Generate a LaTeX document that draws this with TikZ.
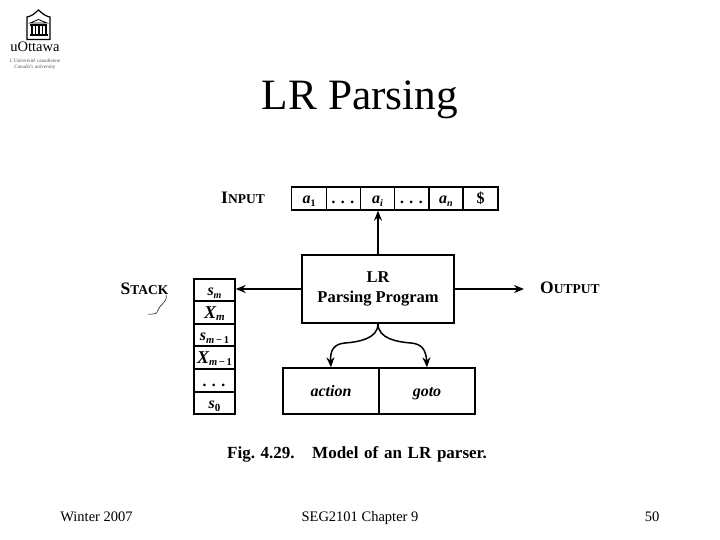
\documentclass[tikz,border=0pt]{standalone}
\usepackage{fontspec}
\setmainfont{Liberation Serif}
\usetikzlibrary{arrows.meta}
\newcommand{\sctext}[2]{{\fontsize{17.5}{18}\selectfont\bfseries #1}{\fontsize{13.5}{14}\selectfont\bfseries #2}}
\newcommand{\subsc}[2]{\raisebox{-2.5pt}{\fontsize{#1}{#1}\selectfont #2}}
\tikzset{
  x=1pt,y=-1pt,
  cell/.style={draw=black,line width=1.4pt,inner sep=0pt,anchor=center,text=black,text height=12pt,text depth=1pt,font=\fontsize{16}{16}\selectfont\bfseries\itshape},
  bigbox/.style={cell,line width=1.5pt},
  conn/.style={draw=black,line width=1.5pt,-{Stealth[length=10pt,width=8pt]}},
  lbl/.style={inner sep=0pt,anchor=base,text=black},
  slide/.style={inner sep=0pt,anchor=base,text=black,font=\fontsize{14.5}{15}\selectfont},
  bigx/.style={font=\fontsize{18}{18}\selectfont\bfseries\itshape},
  logoline/.style={draw=black,line width=1pt}
}
\begin{document}
\begin{tikzpicture}
\useasboundingbox (0,0) rectangle (720,540);
\fill[white] (0,0) rectangle (720,540);
% title and footer
\node[lbl,font=\fontsize{43.3}{46}\selectfont] (title) at (360,110) {LR Parsing};
\node[slide] (fl) at (96.5,521) {Winter 2007};
\node[slide] (fc) at (360,521) {SEG2101 Chapter 9};
\node[slide] (fr) at (652,521) {50};
% logo
\draw[logoline,line width=1.2pt,fill=white] (27,39.5) -- (27,17) .. controls (32,16) and (34,14) .. (38.5,10) .. controls (43,14) and (45,16) .. (50,17) -- (50,39.5) -- cycle;
\draw[logoline,line width=.8pt] (30,23) -- (38.5,19.5) -- (47,23) -- cycle;
\fill[black] (30,24) rectangle (47,26);
\foreach \cx in {32,35.5,39,42.5,46}{\fill[black] (\cx-.8,26) rectangle (\cx+.8,34);}
\fill[black] (29.5,34) rectangle (47.5,36.5);
\node[lbl,font=\fontsize{14.5}{15}\selectfont] (uo) at (35,52) {uOttawa};
\node[lbl,text=black!65,font=\fontsize{5.2}{6}\selectfont] (l1) at (35,63) {L'Université canadienne};
\node[lbl,text=black!65,font=\fontsize{5.2}{6}\selectfont] (l2) at (35,69) {Canada's university};
% input tape
\node[lbl] (input) at (243,204) {\sctext{I}{NPUT}};
\node[cell,minimum width=35pt,minimum height=23pt] (a1) at (309,198.5) {a\subsc{10}{\upshape 1}};
\node[cell,minimum width=34.5pt,minimum height=23pt] (d1) at (343.5,198.5) {.\,\,.\,\,.};
\node[cell,minimum width=33.5pt,minimum height=23pt] (ai) at (377.5,198.5) {a\subsc{10}{i}};
\node[cell,minimum width=35pt,minimum height=23pt] (d2) at (412,198.5) {.\,\,.\,\,.};
\node[cell,minimum width=34pt,minimum height=23pt] (an) at (446,198.5) {a\subsc{10}{n}};
\node[cell,minimum width=35pt,minimum height=23pt,font=\fontsize{16}{16}\selectfont\bfseries] (dollar) at (480.5,198.5) {\$};
% program
\node[bigbox,minimum width=152pt,minimum height=68pt,align=center,text height=,text depth=,font=\fontsize{16.5}{20}\selectfont\bfseries] (lr) at (378,289) {LR\\Parsing Program};
% stack
\node[lbl] (stack) at (144.5,294) {\sctext{S}{TACK}};
\draw[black,line width=.5pt,line cap=round] (166,295) .. controls (168,302) and (160,304) .. (158,310) .. controls (157,315) and (153,314) .. (148,314);
\node[cell,minimum width=41pt,minimum height=22pt] (sm) at (214.5,290) {s\subsc{10}{m}};
\node[cell,minimum width=41pt,minimum height=23pt,bigx] (xm) at (214.5,312.5) {X\subsc{11}{m}};
\node[cell,minimum width=41pt,minimum height=22pt] (sm1) at (214.5,335) {s\subsc{10.5}{m\,{\upshape −\,1}}};
\node[cell,minimum width=41pt,minimum height=23pt,bigx] (xm1) at (214.5,357.5) {X\subsc{10.5}{m\,{\upshape −\,1}}};
\node[cell,minimum width=41pt,minimum height=23pt] (dots) at (214.5,380.5) {.\,\,.\,\,.};
\node[cell,minimum width=41pt,minimum height=22pt] (s0) at (214.5,403) {s\subsc{11}{\upshape 0}};
% tables
\node[bigbox,minimum width=96pt,minimum height=46pt] (action) at (331,391) {action};
\node[bigbox,minimum width=96pt,minimum height=46pt] (goto) at (427,391) {goto};
% output
\node[lbl,anchor=base west] (output) at (540,293) {\sctext{O}{UTPUT}};
\coordinate (outend) at (524,289);
% connectors
\draw[conn] (lr.west) -- (sm.east |- lr.west);
\draw[conn] (lr.east) -- (outend);
\draw[conn] (lr.north) -- (lr.north |- ai.south);
\draw[conn] (lr.south) .. controls (378,339) and (358,342) .. (345,343) .. controls (334,344) and (330,350) .. (action.north);
\draw[conn] (lr.south) .. controls (378,339) and (398,342) .. (411,343) .. controls (422,344) and (426,350) .. (goto.north);
% caption
\node[lbl,anchor=base west,font=\fontsize{17}{18}\selectfont\bfseries] (figno) at (227,458) {Fig. 4.29.};
\node[lbl,anchor=base west,font=\fontsize{17}{18}\selectfont\bfseries] (cap) at (312,458) {\spaceskip 5.7pt\relax Model of an LR parser.};
\end{tikzpicture}
\end{document}
